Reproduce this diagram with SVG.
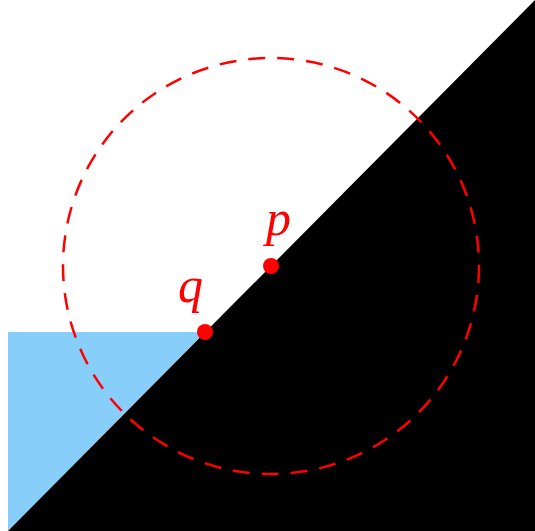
<svg xmlns="http://www.w3.org/2000/svg" width="535" height="531" viewBox="0 0 535 531">
<style>
.lbl{font-family:"Liberation Serif",serif;font-style:italic;font-size:50px;fill:#ff0000}
.pt{fill:#ff0000}
</style>
<rect width="535" height="531" fill="#ffffff"/>
<polygon points="8,332 205,332 8,531" fill="#87cefa"/>
<polygon points="8,531 535,0 535,531" fill="#000000"/>
<circle cx="271" cy="266" r="208" fill="none" stroke="#ff0000" stroke-width="2.5" stroke-dasharray="17,12"/>
<g id="p"><circle class="pt" cx="271" cy="266" r="8"/><text class="lbl" x="266" y="235">p</text></g>
<g id="q"><circle class="pt" cx="205" cy="332" r="8"/><text class="lbl" x="178" y="302">q</text></g>
</svg>
